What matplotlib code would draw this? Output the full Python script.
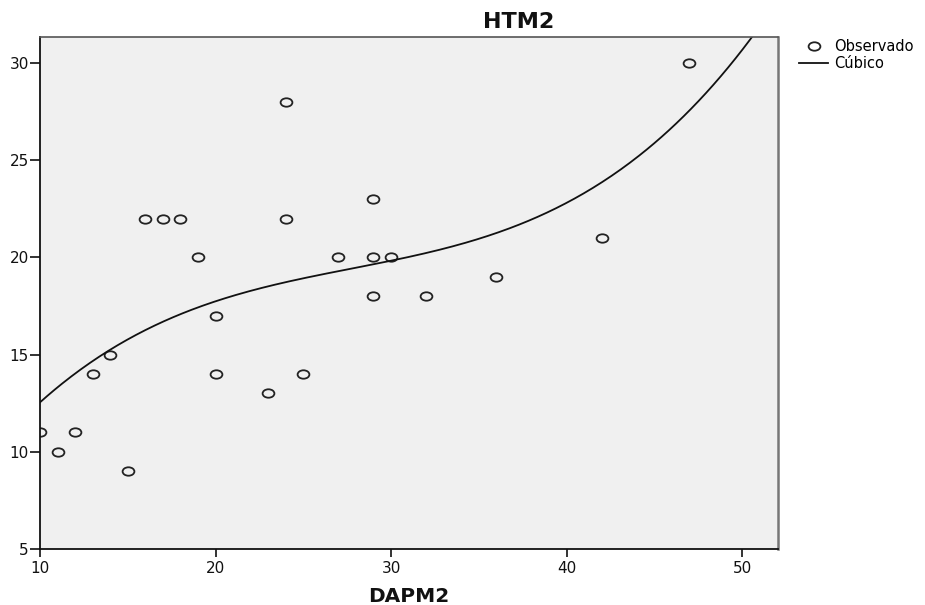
import numpy as np
import matplotlib
matplotlib.use("Agg")
import matplotlib.pyplot as plt
from matplotlib.path import Path
from matplotlib.transforms import Affine2D

# data
dapm2 = [10, 11, 12, 13, 14, 15, 16, 17, 18, 19, 20, 20, 23, 24, 24, 25,
         27, 29, 29, 29, 30, 32, 36, 42, 47]
htm2 = [11, 10, 11, 14, 15, 9, 22, 22, 22, 20, 17, 14, 13, 28, 22, 14,
        20, 23, 20, 18, 20, 18, 19, 21, 30]

# readings taken along the fitted "Cúbico" curve
curve_x = [10, 14, 20, 24.6, 29, 33.4, 36.2, 40.5, 44.9, 47.8, 50.57]
curve_y = [12.57, 15.2, 17.77, 18.85, 19.67, 20.5, 21.37, 22.96, 25.9, 28.26, 31.35]

xticks = [10, 20, 30, 40, 50]
yticks = [5, 10, 15, 20, 25, 30]
title = "HTM2"
xlabel = "DAPM2"
labels = ["Observado", "Cúbico"]

plt.rcParams["font.family"] = "DejaVu Sans"

# cubic through the curve readings
coef = np.polyfit(curve_x, curve_y, 3)
xs = np.linspace(10, 52.05, 400)
ys = np.polyval(coef, xs)

# wide elliptical marker (source image is stretched horizontally)
ell = Path.unit_circle().transformed(Affine2D().scale(1.4, 1.0))

fig = plt.figure(figsize=(9.25, 6.05), dpi=100)
ax = fig.add_axes([40 / 925, 1 - 549 / 605, (778 - 40) / 925, (549 - 37) / 605])
ax.set_facecolor("#f0f0f0")

p1, = ax.plot(dapm2, htm2, ls="none", marker=ell, ms=8.5, mfc="none",
              mec="#222222", mew=1.3, label=labels[0])
p2, = ax.plot(xs, ys, color="#111111", lw=1.3, label=labels[1])

ax.set_xlim(10, 52.05)
ax.set_ylim(5, 31.34)
ax.set_xticks(xticks)
ax.set_yticks(yticks)
ax.tick_params(axis="x", length=5.5, width=1.2, pad=3, labelsize=11, colors="#111111")
ax.tick_params(axis="y", length=7, width=1.2, pad=1, labelsize=11, colors="#111111")

for s in ["left", "bottom"]:
    ax.spines[s].set_color("#111111")
    ax.spines[s].set_linewidth(1.3)
ax.spines["top"].set_color("#555555")
ax.spines["top"].set_linewidth(1.2)
ax.spines["right"].set_color("#777777")
ax.spines["right"].set_linewidth(1.8)

fig.text(519 / 925, 1 - 22 / 605, title, ha="center", va="center",
         fontsize=16, fontweight="bold", color="#111111")
fig.text(409 / 925, 1 - 597 / 605, xlabel, ha="center", va="center",
         fontsize=14.5, fontweight="bold", color="#111111")

fig.legend(handles=[p1, p2], loc="upper left", bbox_to_anchor=(799 / 925, 1 - 39 / 605),
           frameon=False, fontsize=10.5, handlelength=2.0, handletextpad=0.4,
           labelspacing=0.15, borderaxespad=0, borderpad=0)

fig.savefig("out.png", dpi=100)
